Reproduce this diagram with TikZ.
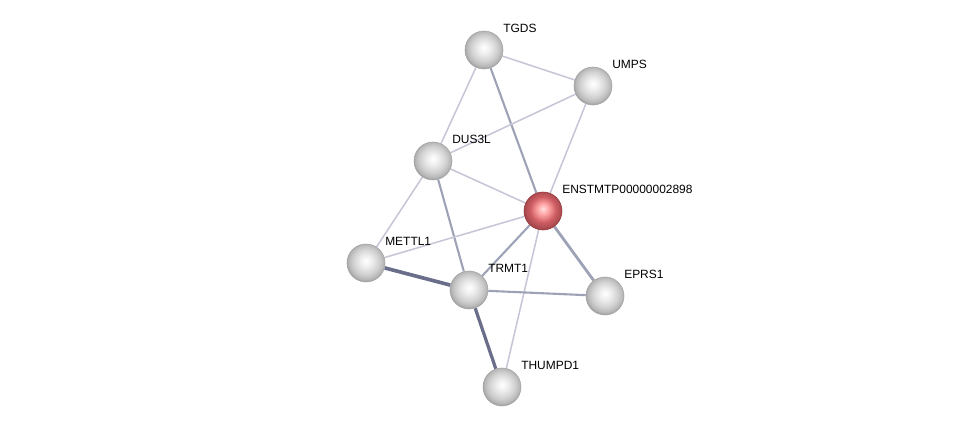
\documentclass[tikz,border=0pt]{standalone}
\usepackage{fontspec}
\setmainfont{Liberation Sans}
\usetikzlibrary{backgrounds}
\definecolor{edgelight}{RGB}{198,198,214}
\definecolor{edgemid}{RGB}{158,162,182}
\definecolor{edgedark}{RGB}{106,110,138}
\definecolor{rimgrey}{RGB}{140,140,140}
\definecolor{bodyred}{RGB}{205,92,98}
\definecolor{rimred}{RGB}{150,55,60}
\pgfdeclareradialshading{protgrey}{\pgfpoint{0bp}{3bp}}{color(0bp)=(white);
  color(7bp)=(white!94!black); color(17bp)=(white!82!black); color(23bp)=(white!72!black);
  color(28bp)=(rimgrey); color(50bp)=(rimgrey)}
\pgfdeclareradialshading{protred}{\pgfpoint{0bp}{3bp}}{color(0bp)=(red!12!white);
  color(7bp)=(red!35!white); color(17bp)=(bodyred); color(23bp)=(bodyred!85!black);
  color(28bp)=(rimred); color(50bp)=(rimred)}

\begin{document}
\begin{tikzpicture}[x=0.025cm,y=-0.025cm,
  prot/.style={circle,minimum size=38*0.025cm,inner sep=0pt,shading=protgrey,draw=gray!70,thin},
  protq/.style={prot,shading=protred,draw=rimred},
  lbl/.style={anchor=base west,font=\fontsize{8.5}{10}\selectfont,inner sep=0pt},
  elight/.style={edgelight,line width=1.1pt},
  emid/.style={edgemid,line width=1.5pt},
  edark/.style={edgedark,line width=2.6pt}
]
  \useasboundingbox (0,0) rectangle (976,432);
  % proteins
  \foreach \n/\x/\y/\t in {tgds/484/50/TGDS, umps/593/86/UMPS, dus/433/161/DUS3L,
      mettl/366/263/METTL1, trmt/469/290/TRMT1, eprs/605/296/EPRS1, thump/502/387/THUMPD1}{
    \node[prot] (\n) at (\x,\y) {};
    \node[lbl] (\n-l) at (\x+19,\y-17) {\t};
  }
  \node[protq] (enst) at (543,211) {};
  \node[lbl] (enst-l) at (562,194) {ENSTMTP00000002898};
  % interactions
  \begin{scope}[on background layer]
    \draw[elight] (tgds) -- (umps);
    \draw[elight] (tgds) -- (dus);
    \draw[emid] (tgds) -- (enst);
    \draw[elight] (umps) -- (dus);
    \draw[elight] (umps) -- (enst);
    \draw[elight] (dus) -- (enst);
    \draw[elight] (dus) -- (mettl);
    \draw[emid] (dus) -- (trmt);
    \draw[elight] (enst) -- (mettl);
    \draw[emid] (enst) -- (trmt);
    \draw[emid,line width=2pt] (enst) -- (eprs);
    \draw[elight] (enst) -- (thump);
    \draw[edark] (mettl) -- (trmt);
    \draw[emid] (trmt) -- (eprs);
    \draw[edark,line width=2.3pt] (trmt) -- (thump);
  \end{scope}
\end{tikzpicture}
\end{document}
